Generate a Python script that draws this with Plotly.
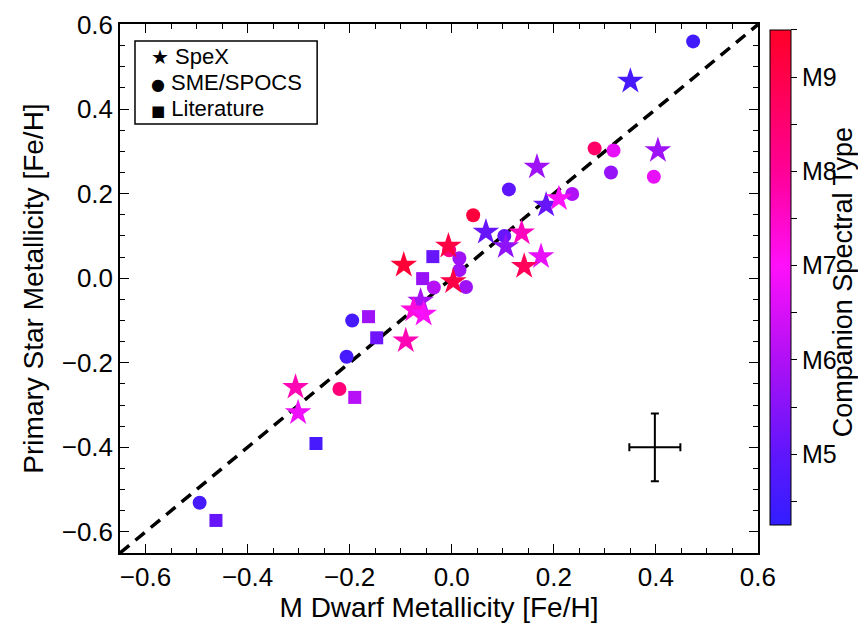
import plotly.graph_objects as go

# ---------------- data ----------------
# SpeX (stars)
spex_x = [0.350, 0.404, 0.167, 0.185, 0.210, 0.067, 0.106, 0.137, 0.175, 0.142,
          -0.0065, -0.094, 0.003, -0.061, -0.075, -0.055, -0.090, -0.306, -0.301]
spex_y = [0.466, 0.302, 0.263, 0.173, 0.188, 0.109, 0.075, 0.107, 0.051, 0.028,
          0.076, 0.031, -0.008, -0.054, -0.075, -0.085, -0.148, -0.258, -0.318]
spex_sp = [4.6, 5.8, 5.8, 5.1, 7.0, 5.1, 5.6, 7.6, 6.7, 8.8,
           9.1, 9.3, 9.1, 5.9, 7.3, 6.9, 7.7, 7.7, 6.8]

# SME/SPOCS (circles)
sme_x = [0.473, 0.280, 0.317, 0.312, 0.396, 0.112, 0.236, 0.042, 0.103, -0.005,
         0.015, 0.015, -0.035, 0.028, -0.195, -0.206, -0.220, -0.494]
sme_y = [0.560, 0.307, 0.302, 0.250, 0.240, 0.210, 0.199, 0.149, 0.100, 0.066,
         0.047, 0.019, -0.022, -0.021, -0.100, -0.186, -0.262, -0.531]
sme_sp = [4.5, 8.6, 6.7, 5.7, 6.7, 5.0, 6.0, 9.2, 5.1, 8.2,
          5.8, 5.8, 6.1, 5.8, 4.6, 4.6, 8.4, 4.6]

# Literature (squares)
lit_x = [-0.037, -0.057, -0.163, -0.147, -0.190, -0.266, -0.462]
lit_y = [0.051, -0.001, -0.091, -0.141, -0.282, -0.391, -0.573]
lit_sp = [5.1, 5.7, 5.8, 5.2, 6.1, 4.6, 5.1]

# one-to-one line and representative error bar
line_xy = [-0.65, 0.6]
err_x, err_y = [0.398], [-0.400]
err_dx, err_dy = [0.05], [0.08]

axis_ticks = [-0.6, -0.4, -0.2, 0.0, 0.2, 0.4, 0.6]
cbar_vals = [4.5, 5, 5.5, 6, 6.5, 7, 7.5, 8, 8.5, 9, 9.5]
cbar_text = ["", "M5", "", "M6", "", "M7", "", "M8", "", "M9", ""]

legend_names = ["SpeX", "SME/SPOCS", "Literature"]
legend_glyphs = ["\u2605", "\u25CF", "\u25A0"]
legend_glyph_px = [20, 16, 15]

FONT = "Liberation Sans, Arial, Helvetica, sans-serif"

colorscale = [
    [0.0, "rgb(50,30,255)"],
    [0.143, "rgb(95,22,252)"],
    [0.333, "rgb(175,16,245)"],
    [0.524, "rgb(255,16,250)"],
    [0.714, "rgb(255,0,150)"],
    [0.905, "rgb(255,0,75)"],
    [1.0, "rgb(255,0,40)"],
]

fig = go.Figure()

fig.add_trace(go.Scatter(x=line_xy, y=line_xy, mode="lines",
                         line=dict(color="black", width=3.5, dash="12px,8px"),
                         showlegend=False, hoverinfo="skip"))

fig.add_trace(go.Scatter(x=lit_x, y=lit_y, mode="markers", name="Literature", showlegend=False,
                         marker=dict(symbol="square", size=13, color=lit_sp,
                                     coloraxis="coloraxis", line=dict(width=0))))
fig.add_trace(go.Scatter(x=sme_x, y=sme_y, mode="markers", name="SME/SPOCS", showlegend=False,
                         marker=dict(symbol="circle", size=14, color=sme_sp,
                                     coloraxis="coloraxis", line=dict(width=0))))
fig.add_trace(go.Scatter(x=spex_x, y=spex_y, mode="markers", name="SpeX", showlegend=False,
                         marker=dict(symbol="star", size=20, color=spex_sp,
                                     coloraxis="coloraxis", line=dict(width=0))))

fig.add_trace(go.Scatter(x=err_x, y=err_y, mode="markers", showlegend=False,
                         marker=dict(size=1, color="black"),
                         error_x=dict(type="data", array=err_dx, color="black", thickness=2, width=4),
                         error_y=dict(type="data", array=err_dy, color="black", thickness=2, width=4)))

axis_common = dict(
    tickvals=axis_ticks, tickformat=".1f",
    ticks="inside", ticklen=9, tickwidth=1.2, tickcolor="black",
    minor=dict(dtick=0.05, ticks="inside", ticklen=5, tickcolor="black"),
    showline=True, linecolor="black", linewidth=1.5, mirror="allticks",
    showgrid=False, zeroline=False, ticklabeloverflow="allow",
    tickfont=dict(family=FONT, size=26, color="black"),
)

# manual legend: one row of text per entry, inside a box
row_y = [0.9386, 0.8894, 0.8403]
annotations = []
for g, gpx, n, yy in zip(legend_glyphs, legend_glyph_px, legend_names, row_y):
    annotations.append(dict(
        text=f"<span style='font-family:DejaVu Sans;font-size:{gpx}px'>{g}</span> {n}",
        xref="paper", yref="paper", x=0.045, y=yy,
        xanchor="left", yanchor="middle", align="left", showarrow=False,
        font=dict(family=FONT, size=22, color="black")))

annotations.append(dict(text="Companion Spectral Type", textangle=-90,
                        xref="paper", yref="paper", x=1.16, y=0.512,
                        showarrow=False, font=dict(family=FONT, size=27, color="black")))

fig.update_layout(
    width=866, height=624,
    margin=dict(l=112, r=116, t=16, b=79, autoexpand=False),
    paper_bgcolor="white", plot_bgcolor="white",
    font=dict(family=FONT, color="black"),
    showlegend=False,
    xaxis=dict(**axis_common, range=[-0.65, 0.6001],
               title=dict(text="M Dwarf Metallicity [Fe/H]",
                          font=dict(family=FONT, size=28), standoff=2)),
    yaxis=dict(**axis_common, range=[-0.65, 0.6012],
               title=dict(text="Primary Star Metallicity [Fe/H]",
                          font=dict(family=FONT, size=28), standoff=10)),
    coloraxis=dict(
        colorscale=colorscale, cmin=4.25, cmax=9.5,
        colorbar=dict(
            x=1.0188, xanchor="left", xpad=0, thickness=21,
            len=0.936, lenmode="fraction", y=0.521, yanchor="middle", ypad=0,
            outlinewidth=1, outlinecolor="black",
            tickmode="array", tickvals=cbar_vals, ticktext=cbar_text,
            ticks="outside", ticklen=6, tickcolor="black",
            tickfont=dict(family=FONT, size=25, color="black"),
        ),
    ),
    shapes=[dict(type="rect", xref="paper", yref="paper",
                 x0=0.0235, x1=0.309, y0=0.811, y1=0.968,
                 line=dict(color="black", width=1.5), fillcolor="white", layer="above")],
    annotations=annotations,
)

fig.write_html("out.html")
